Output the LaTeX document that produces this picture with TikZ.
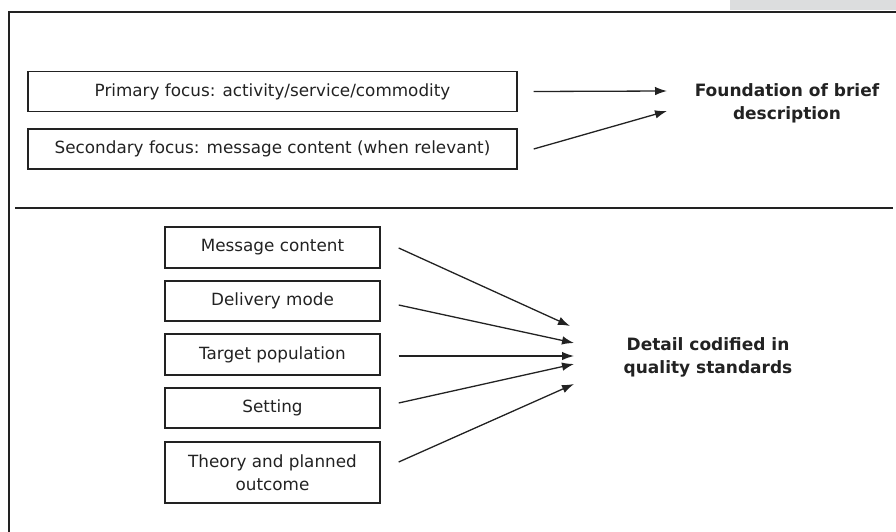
\documentclass[tikz,border=0pt]{standalone}
\usepackage{fontspec}
\setmainfont{DejaVu Sans}
\usepackage{xcolor}
\usepackage{tikz}
\usetikzlibrary{
  arrows.meta,
  positioning,
  calc
}
\definecolor{qsInk}{HTML}{222222}
\definecolor{qsTab}{HTML}{DCDDDE}

\tikzset{
  qsbox/.style={draw=qsInk, line width=1.4pt, minimum height=40pt, inner sep=2pt, align=center, text=qsInk},
  qsarrow/.style={draw=qsInk, line width=1.3pt, -{Latex[length=12pt, width=8.5pt]}},
  qsresult/.style={font=\fontsize{17}{23}\selectfont\bfseries, align=center, text=qsInk}
}

\begin{document}
\begin{tikzpicture}[x=1pt, y=-1pt, font=\fontsize{16.8}{23}\selectfont]
  \useasboundingbox (0,0) rectangle (896,532);
  % frame, tab and divider
  \fill[qsTab] (730,0) rectangle (896,10);
  \draw[qsInk, line width=1.5pt] (9,532) -- (9,12) -- (896,12);
  \draw[qsInk, line width=1.5pt] (15,208) -- (893,208);

  % upper panel
  \node[qsbox, minimum width=489pt] (prim) at (272.5,91.5) {Primary focus: activity/service/commodity};
  \node[qsbox, minimum width=489pt] (sec) at (272.5,149) {Secondary focus: message content (when relevant)};
  \node[qsresult] (found) at (787,103.5) {Foundation of brief\\description};
  \coordinate (f1) at (667,91);
  \coordinate (f2) at (667,111);
  \draw[qsarrow] ([xshift=16pt]prim.east) -- (f1);
  \draw[qsarrow] ([xshift=16pt]sec.east) -- (f2);

  % lower panel
  \foreach \n/\y/\h/\txt in {msg/247.5/41/{Message content}, deliv/301/40/{Delivery mode}, target/354.5/41/{Target population}, setting/408/40/{Setting}, theory/472.5/61/{Theory and planned\\outcome}}{
    \node[qsbox, minimum width=215pt, minimum height=\h pt] (\n) at (272.5,\y) {\txt};
  }
  \node[qsresult] (detail) at (708,357.5) {Detail codified in\\quality standards};
  \foreach \n/\sy/\ex/\ey in {msg/0.5/570/326, deliv/4/574/343, target/1.5/574/356, setting/-5/574/364, theory/-10.5/574/384}{
    \coordinate (end-\n) at (\ex,\ey);
    \draw[qsarrow] ([xshift=18pt, yshift=-\sy pt]\n.east) -- (end-\n);
  }
\end{tikzpicture}
\end{document}
